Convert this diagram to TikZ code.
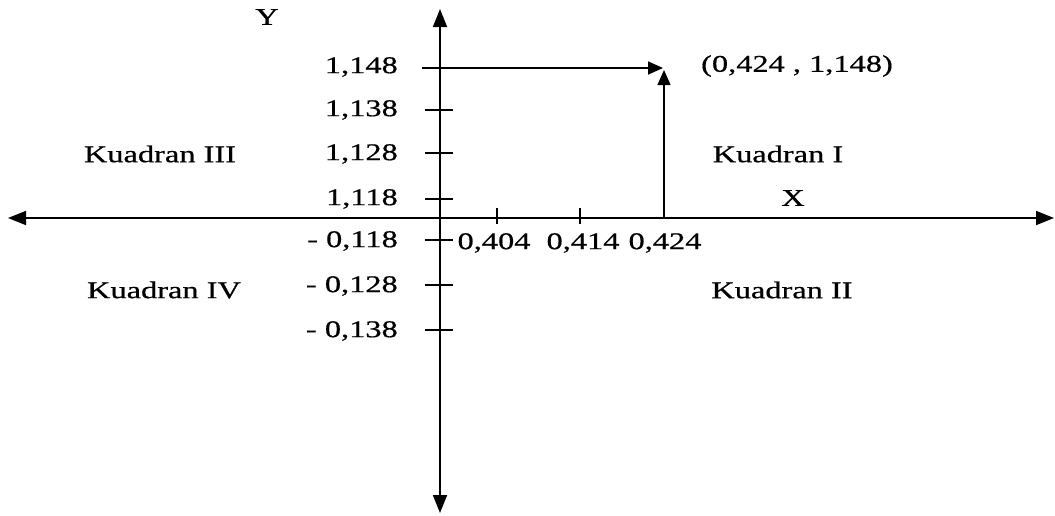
\documentclass[tikz,border=0pt]{standalone}
\usepackage{fontspec}
\setmainfont{Liberation Serif}[FakeStretch=1.35,FakeBold=0.6]
\usetikzlibrary{arrows.meta}
\begin{document}
\begin{tikzpicture}[x=1pt,y=-1pt,
  every node/.style={font=\fontsize{24}{28}\selectfont, inner sep=0pt},
  axis/.style={line width=1.8pt, {Triangle[length=18pt,width=14pt]}-{Triangle[length=18pt,width=14pt]}},
  pointer/.style={line width=1.6pt, -{Triangle[length=15pt,width=13pt]}},
  tick/.style={line width=1.4pt},
  ylab/.style={anchor=east},
  xlab/.style={anchor=center}]
\useasboundingbox (0,0) rectangle (1055,515);
\fill[white] (0,0) rectangle (1055,515);

% axes
\coordinate (xl) at (8,218);
\coordinate (xr) at (1054,218);
\coordinate (yt) at (440,9);
\coordinate (yb) at (440,513);
\draw[axis] (xl) -- (xr);
\draw[axis] (yt) -- (yb);
\node (ax) at (793,198) {X};
\node (ay) at (267,17) {Y};

% ticks on the vertical axis
\foreach \yy in {110,153,199,240,285,330}
  \draw[tick] (425,\yy) -- (453,\yy);
\node[ylab] (y1) at (398,67) {1,148};
\node[ylab] (y2) at (398,110) {1,138};
\node[ylab] (y3) at (398,154) {1,128};
\node[ylab] (y4) at (398,199) {1,118};
\node[ylab] (y5) at (398,241) {- 0,118};
\node[ylab] (y6) at (398,286) {- 0,128};
\node[ylab] (y7) at (398,331) {- 0,138};

% ticks on the horizontal axis
\foreach \xx in {497,580}
  \draw[tick] (\xx,208) -- (\xx,224);
\node[xlab] (x1) at (494,243) {0,404};
\node[xlab] (x2) at (583,243) {0,414};
\node[xlab] (x3) at (665,243) {0,424};

% the plotted point
\coordinate (py) at (422,68);
\coordinate (pt) at (663,68);
\coordinate (px) at (664,218);
\coordinate (ptv) at (664,70);
\draw[pointer] (py) -- (pt);
\draw[pointer] (px) -- (ptv);
\node (plabel) at (797,66) {(0,424 , 1,148)};

% quadrant names
\node (q3) at (160,154) {Kuadran III};
\node (q1) at (778,154) {Kuadran I};
\node (q4) at (164,290) {Kuadran IV};
\node (q2) at (782,290) {Kuadran II};
\end{tikzpicture}
\end{document}
